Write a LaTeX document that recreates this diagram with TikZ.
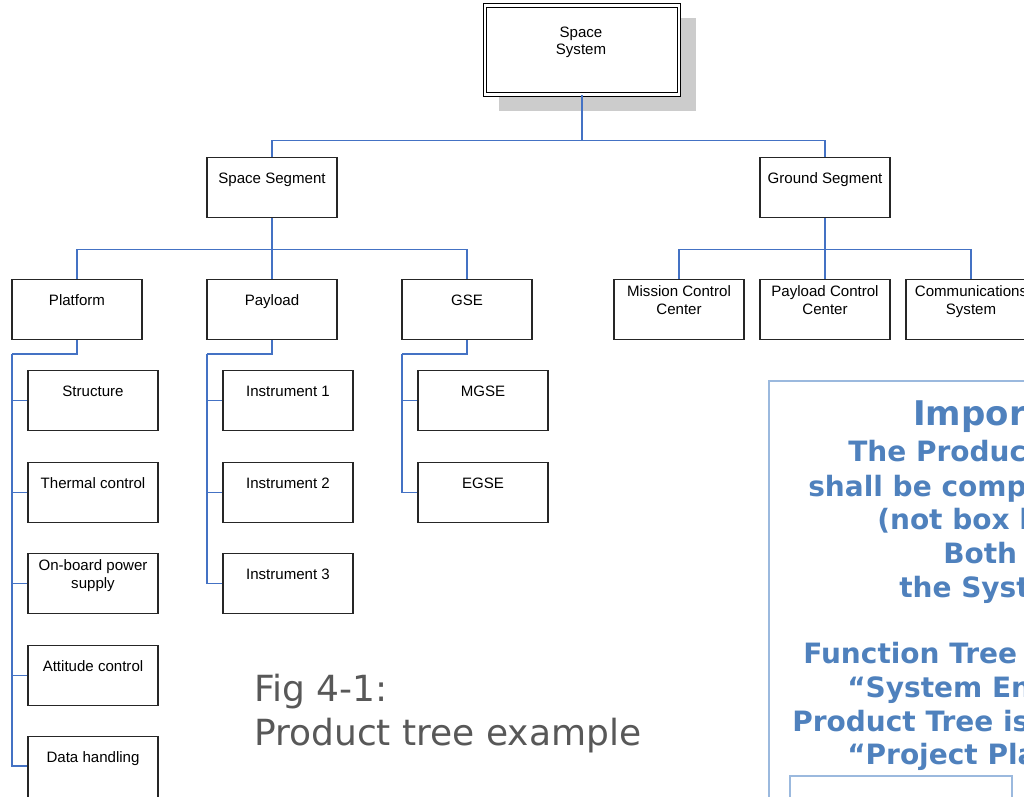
\documentclass[tikz,border=0pt]{standalone}
\usepackage{fontspec}
\setmainfont{Liberation Sans}
\newfontfamily\verdfont{DejaVu Sans}
\usetikzlibrary{calc}
\definecolor{linkblue}{RGB}{68,114,196}
\definecolor{noteblue}{RGB}{79,129,189}
\definecolor{noteline}{RGB}{155,185,222}
\definecolor{shadowgray}{RGB}{204,204,204}
\definecolor{figgray}{RGB}{88,88,88}

\tikzset{
  pbx/.style={draw=black!85, line width=0.9pt, fill=white, minimum width=97.5pt,
    minimum height=45pt, inner sep=0pt, anchor=north},
  ptxt/.style={anchor=base, inner sep=0pt, font=\fontsize{11.3}{13.5}\selectfont},
  link/.style={draw=linkblue, line width=0.9pt},
  notetxt/.style={anchor=base west, inner sep=0pt, text=noteblue,
    font=\verdfont\bfseries\fontsize{21}{25}\selectfont},
  figtxt/.style={anchor=base west, inner sep=0pt, text=figgray,
    font=\verdfont\fontsize{27}{32}\selectfont}
}

% box with one centred line of text: name, centre x, top y, text
\newcommand\boxone[4]{%
  \node[pbx] (#1) at (#2,#3) {};
  \node[ptxt] (#1-t) at (#2,#3+26.5) {#4};}
% box with two centred lines of text
\newcommand\boxtwo[5]{%
  \node[pbx] (#1) at (#2,#3) {};
  \node[ptxt] (#1-a) at (#2,#3+17.5) {#4};
  \node[ptxt] (#1-b) at (#2,#3+35.5) {#5};}

\begin{document}
\begin{tikzpicture}[x=0.75pt,y=-0.75pt]
\useasboundingbox (0,0) rectangle (1024,796);
\clip (0,0) rectangle (1024,796);

% top level with drop shadow and double frame
\fill[shadowgray] (499,18) rectangle (696,111);
\node[draw=black, fill=white, line width=0.75pt, double, double distance=1.6pt,
  minimum width=145.5pt, minimum height=66.75pt, inner sep=0pt] (sys) at (582,50) {};
\node[ptxt] (sys-a) at (581,37.5) {Space};
\node[ptxt] (sys-b) at (581,54.5) {System};

% segments
\boxone{ss}{272}{157}{Space Segment}
\boxone{gs}{825}{157}{Ground Segment}

% subsystems
\boxone{pl}{77}{279}{Platform}
\boxone{pa}{272}{279}{Payload}
\boxone{gse}{467}{279}{GSE}
\boxtwo{mcc}{679}{279}{Mission Control}{Center}
\boxtwo{pcc}{825}{279}{Payload Control}{Center}
\boxtwo{com}{971}{279}{Communications}{System}

% platform elements
\boxone{st}{93}{370}{Structure}
\boxone{th}{93}{462}{Thermal control}
\boxtwo{pw}{93}{553}{On-board power}{supply}
\boxone{at}{93}{645}{Attitude control}
% last element runs past the lower edge
\node[pbx, minimum height=46.5pt] (dh) at (93,736) {};
\node[ptxt] (dh-t) at (93,762.5) {Data handling};

% payload elements
\boxone{i1}{288}{370}{Instrument 1}
\boxone{i2}{288}{462}{Instrument 2}
\boxone{i3}{288}{553}{Instrument 3}

% ground support equipment
\boxone{mg}{483}{370}{MGSE}
\boxone{eg}{483}{462}{EGSE}

% connectors
\draw[link] (sys.south) -- ++(0,45.5) -| (ss.north);
\draw[link] (sys.south) -- ++(0,45.5) -| (gs.north);
\foreach \c in {pl,pa,gse}{\draw[link] (ss.south) -- ++(0,31) -| (\c.north);}
\foreach \c in {mcc,pcc,com}{\draw[link] (gs.south) -- ++(0,31) -| (\c.north);}

\coordinate (plb) at (12,354);
\coordinate (pab) at (207,354);
\coordinate (gsb) at (402,354);
\draw[link] (pl.south) |- (plb);
\draw[link] (pa.south) |- (pab);
\draw[link] (gse.south) |- (gsb);
\foreach \c in {st,th,pw,at}{\draw[link] (plb) |- (\c.west);}
\draw[link] (plb) |- ([yshift=-22.5pt]dh.north west);
\foreach \c in {i1,i2,i3}{\draw[link] (pab) |- (\c.west);}
\foreach \c in {mg,eg}{\draw[link] (gsb) |- (\c.west);}

% caption
\node[figtxt] (cap1) at (254,701) {Fig 4-1:};
\node[figtxt] (cap2) at (254,745) {Product tree example};

% note panel
\draw[noteline, line width=1.6pt] (769,381) rectangle (1060,840);
\draw[noteline, line width=1.6pt] (790,776) rectangle (1012,840);
\node[notetxt, font=\verdfont\bfseries\fontsize{25.5}{30}\selectfont] (n0) at (913,425) {Import};
\node[notetxt] (n1) at (848,461.5) {The Product};
\node[notetxt] (n2) at (808,496) {shall be comp};
\node[notetxt] (n3) at (877,529.5) {(not box l};
\node[notetxt] (n4) at (943,563) {Both};
\node[notetxt] (n5) at (899,597) {the Syst};
\node[notetxt] (n6) at (803,663) {Function Tree};
\node[notetxt] (n7) at (847,697) {“System En};
\node[notetxt] (n8) at (792,731) {Product Tree is};
\node[notetxt] (n9) at (847,764) {“Project Pla};
\end{tikzpicture}
\end{document}
